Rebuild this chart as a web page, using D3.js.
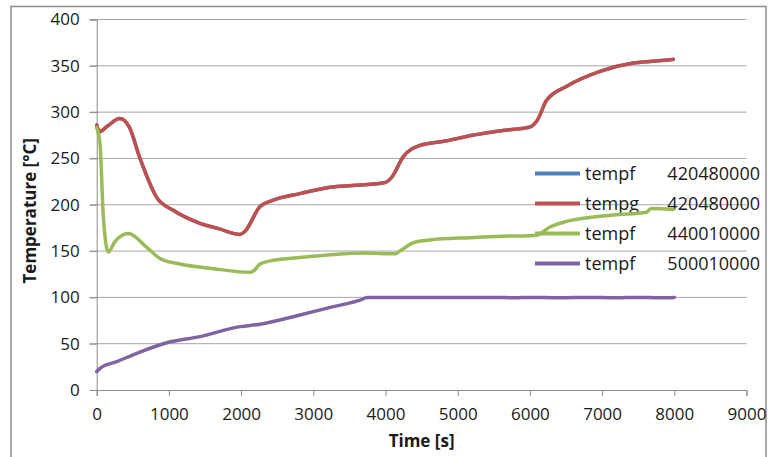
<!DOCTYPE html>
<html>
<head>
<meta charset="utf-8">
<script src="https://cdn.jsdelivr.net/npm/d3@7"></script>
<style>
  body { margin: 0; background: #fff; }
  text { font-family: "Open Sans", "Liberation Sans", sans-serif; fill: #1a1a1a; }
</style>
</head>
<body>
<div id="chart"></div>
<script>
// time [s] / temperature [°C]
const redTime = [0, 40, 150, 320, 450, 600, 830, 1060, 1430, 1700, 1985, 2050, 2262, 2446, 2816, 3231, 3600, 3993, 4080, 4247, 4478, 4848, 5200, 5600, 6001, 6100, 6233, 6510, 6972, 7432, 7700, 7986];
const redTemp = [286, 279, 285, 293, 284, 250, 208, 194, 180, 174, 168, 171, 198, 205, 212, 219, 221, 224, 229, 252, 264, 269, 275, 280, 284, 291, 313, 328, 344, 353, 355, 357];

const greenTime = [0, 46, 92, 161, 250, 438, 693, 877, 1154, 1615, 2123, 2180, 2262, 2446, 2816, 3231, 3700, 4132, 4200, 4385, 4616, 5171, 5600, 6002, 6094, 6278, 6510, 7155, 7617, 7660, 7687, 7986];
const greenTemp = [283, 266, 187, 149, 160, 169, 154, 142, 136, 131, 127, 129, 136, 140, 143, 146, 148, 147, 150, 159, 162, 164.5, 166, 166.5, 167, 176, 182, 189, 192, 195, 196, 195];

const purpleTime = [0, 46, 277, 600, 970, 1430, 1985, 2262, 2816, 3277, 3647, 3750, 4500, 5500, 5800, 6000, 6400, 6800, 7200, 7500, 7800, 8000];
const purpleTemp = [20, 23.4, 30.6, 41, 51, 57.6, 68.4, 71, 81, 90, 97, 100, 100, 100, 99.6, 100, 99.6, 100, 99.6, 100, 99.6, 100];

// tempf 420480000 lies under tempg 420480000 and is not visible
const blueTime = redTime;
const blueTemp = redTemp;

const seriesNames = ["tempf", "tempg", "tempf", "tempf"];
const seriesIds = ["420480000", "420480000", "440010000", "500010000"];
const seriesColors = ["#4F81BD", "#C0504D", "#9BBB59", "#8064A2"];

const xTicks = [0, 1000, 2000, 3000, 4000, 5000, 6000, 7000, 8000, 9000];
const yTicks = [0, 50, 100, 150, 200, 250, 300, 350, 400];

const width = 769, height = 457;
const margin = {left: 96.7, right: 22.5, top: 19.5, bottom: 67};

const series = [
  {time: blueTime, temp: blueTemp},
  {time: redTime, temp: redTemp},
  {time: greenTime, temp: greenTemp},
  {time: purpleTime, temp: purpleTemp}
].map((s, i) => ({
  name: seriesNames[i],
  id: seriesIds[i],
  color: seriesColors[i],
  values: s.time.map((t, j) => ({t, v: s.temp[j]}))
}));

const x = d3.scaleLinear().domain([0, 9000]).range([margin.left, width - margin.right]);
const y = d3.scaleLinear().domain([0, 400]).range([height - margin.bottom, margin.top]);

const svg = d3.select("#chart").append("svg")
    .attr("width", width)
    .attr("height", height);

// outer chart frame
svg.append("rect")
    .attr("x", 11).attr("y", 6.5)
    .attr("width", 755).attr("height", 470)
    .attr("fill", "none")
    .attr("stroke", "#8c8c8c")
    .attr("stroke-width", 1.5);

// gridlines
svg.append("g")
  .selectAll("line")
  .data(yTicks.filter(d => d > 0))
  .join("line")
    .attr("x1", x(0) - 7).attr("x2", x(9000))
    .attr("y1", d => y(d)).attr("y2", d => y(d))
    .attr("stroke", "#a6a6a6")
    .attr("stroke-width", 1);

// y axis
const yAxis = svg.append("g")
    .attr("transform", `translate(${x(0)},0)`)
    .call(d3.axisLeft(y).tickValues(yTicks).tickSize(7).tickPadding(10));
yAxis.select(".domain").attr("stroke", "#8c8c8c");
yAxis.selectAll(".tick line").attr("stroke", "#8c8c8c");
yAxis.selectAll(".tick text")
    .attr("font-size", 17)
    .attr("font-family", null)
    .attr("fill", "#1a1a1a");

// x axis
const xAxis = svg.append("g")
    .attr("transform", `translate(0,${y(0)})`)
    .call(d3.axisBottom(x).tickValues(xTicks).tickFormat(d3.format("d")).tickSize(6).tickPadding(12));
xAxis.select(".domain").attr("stroke", "#8c8c8c");
xAxis.selectAll(".tick line").attr("stroke", "#8c8c8c");
xAxis.selectAll(".tick text")
    .attr("font-size", 17)
    .attr("font-family", null)
    .attr("fill", "#1a1a1a");

// axis titles
svg.append("text")
    .attr("x", x(4500))
    .attr("y", 447)
    .attr("text-anchor", "middle")
    .attr("font-size", 17)
    .attr("font-weight", "bold")
    .text("Time [s]");

svg.append("text")
    .attr("transform", `translate(36,${(y(0) + y(400)) / 2 + 6}) rotate(-90)`)
    .attr("text-anchor", "middle")
    .attr("font-size", 17)
    .attr("font-weight", "bold")
    .text("Temperature [°C]");

// legend (drawn under the curves, no background)
const legend = svg.append("g");
const legendItem = legend.selectAll("g")
  .data(series)
  .join("g")
    .attr("transform", (d, i) => `translate(535,${173.5 + i * 30})`);

legendItem.append("line")
    .attr("x1", 0).attr("x2", 45)
    .attr("stroke", d => d.color)
    .attr("stroke-width", 4);

legendItem.append("text")
    .attr("x", 50)
    .attr("dy", "0.35em")
    .attr("font-size", 18)
    .text(d => d.name);

legendItem.append("text")
    .attr("x", 225)
    .attr("dy", "0.35em")
    .attr("text-anchor", "end")
    .attr("font-size", 18)
    .text(d => d.id);

// curves
const line = d3.line()
    .x(d => x(d.t))
    .y(d => y(d.v))
    .curve(d3.curveMonotoneX);

svg.append("g")
  .selectAll("path")
  .data(series)
  .join("path")
    .attr("d", d => line(d.values))
    .attr("fill", "none")
    .attr("stroke", d => d.color)
    .attr("stroke-width", 3.5)
    .attr("stroke-linejoin", "round")
    .attr("stroke-linecap", "round");
</script>
</body>
</html>
